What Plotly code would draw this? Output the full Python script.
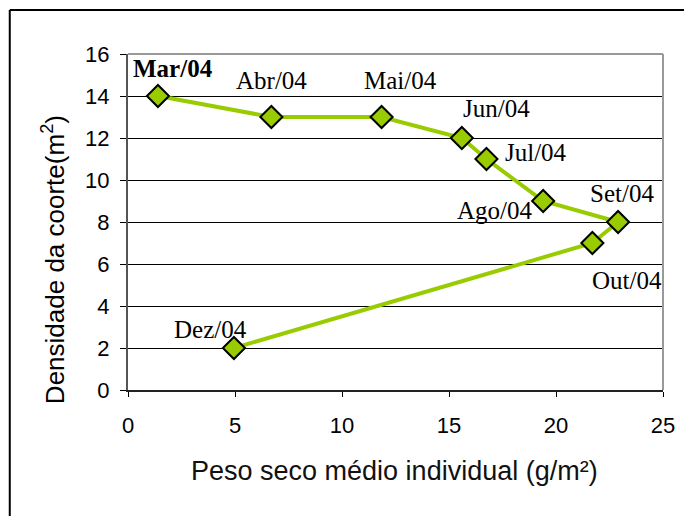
import plotly.graph_objects as go

# data
months = ["Mar/04", "Abr/04", "Mai/04", "Jun/04", "Jul/04", "Ago/04", "Set/04", "Out/04", "Dez/04"]
peso = [1.4, 6.7, 11.85, 15.6, 16.75, 19.4, 22.9, 21.7, 4.95]
densidade = [14, 13, 13, 12, 11, 9, 8, 7, 2]
x_ticks = [0, 5, 10, 15, 20, 25]
y_ticks = [0, 2, 4, 6, 8, 10, 12, 14, 16]

# label offsets in pixels (xshift, yshift) relative to each point
label_shift = {
    "Mar/04": (15, 28),
    "Abr/04": (0, 37),
    "Mai/04": (19, 37),
    "Jun/04": (35, 30),
    "Jul/04": (50, 7),
    "Ago/04": (-48, -9),
    "Set/04": (4, 29),
    "Out/04": (35, -37),
    "Dez/04": (-23, 19),
}

GREEN = "#99CC00"
SERIF = "Liberation Serif"
SANS = "Liberation Sans"

fig = go.Figure()
fig.add_trace(go.Scatter(
    x=peso, y=densidade,
    mode="lines+markers",
    line=dict(color=GREEN, width=4),
    marker=dict(symbol="diamond", size=17, color=GREEN, line=dict(color="black", width=2)),
    showlegend=False,
))

for m, px, dy in zip(months, peso, densidade):
    xs, ys = label_shift[m]
    txt = f"<b>{m}</b>" if m == "Mar/04" else m
    fig.add_annotation(
        x=px, y=dy, text=txt, showarrow=False,
        xshift=xs, yshift=ys,
        font=dict(family=SERIF, size=25, color="black"),
    )

# axis titles as annotations so they sit where the reference has them
fig.add_annotation(
    xref="paper", yref="paper", x=-0.138, y=0.387,
    text="Densidade da coorte(m<sup>2</sup>)", showarrow=False, textangle=-90,
    font=dict(family=SANS, size=26, color="black"),
    xanchor="center", yanchor="middle",
)
fig.add_annotation(
    xref="paper", yref="paper", x=0.498, y=-0.241,
    text="Peso seco médio individual (g/m²)", showarrow=False,
    font=dict(family=SANS, size=27, color="#111111"),
    xanchor="center", yanchor="middle",
)

# outer frame: only top and left edges are visible in the picture
fig.add_shape(type="line", xref="paper", yref="paper", x0=-0.221, x1=1.2, y0=1.131, y1=1.131,
              line=dict(color="black", width=2))
fig.add_shape(type="line", xref="paper", yref="paper", x0=-0.221, x1=-0.221, y0=-0.5, y1=1.131,
              line=dict(color="black", width=2))

# gray frame on top and right of the plot area
fig.add_shape(type="line", xref="paper", yref="paper", x0=0, x1=1, y0=1, y1=1,
              line=dict(color="#999999", width=2), layer="above")
fig.add_shape(type="line", xref="paper", yref="paper", x0=1, x1=1, y0=0, y1=1,
              line=dict(color="#999999", width=2), layer="above")

fig.update_layout(
    width=684, height=508,
    margin=dict(l=120, r=29, t=46, b=126),
    plot_bgcolor="white", paper_bgcolor="white",
    font=dict(family=SANS, size=22, color="black"),
    xaxis=dict(
        range=[0, 25], tickvals=x_ticks, showgrid=False, zeroline=False,
        showline=True, linecolor="#222222", linewidth=1.5,
        ticks="outside", ticklen=5, tickcolor="black",
        tickfont=dict(family=SANS, size=22), ticklabelstandoff=10,
    ),
    yaxis=dict(
        range=[0, 16], tickvals=y_ticks, showgrid=True, gridcolor="black", gridwidth=1,
        zeroline=False, showline=True, linecolor="#555555", linewidth=2,
        ticks="outside", ticklen=6, tickcolor="black",
        tickfont=dict(family=SANS, size=22), ticklabelstandoff=6,
    ),
)

fig.write_html("out.html")
